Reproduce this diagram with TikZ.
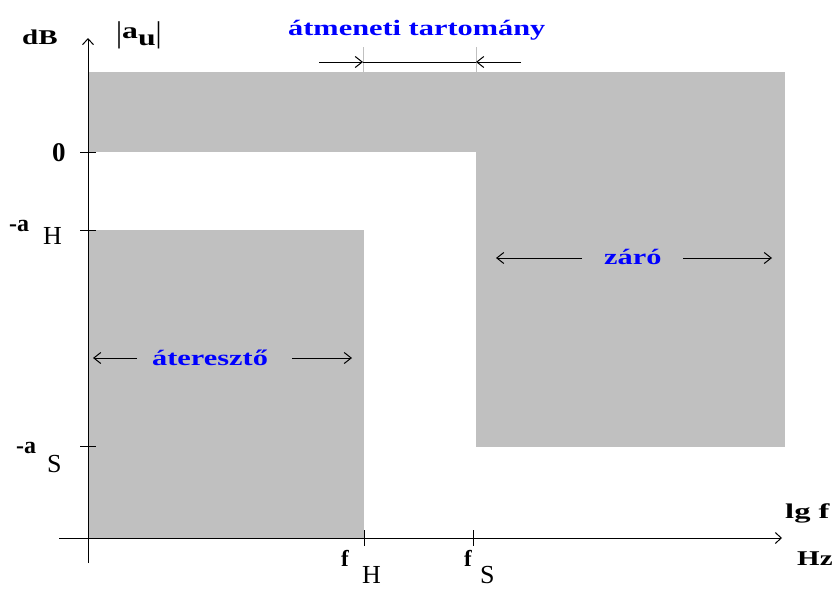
\documentclass[tikz,border=0pt]{standalone}
\usepackage{fontspec}
\setmainfont{Liberation Serif}
\newfontfamily\widefont[FakeStretch=1.38]{Liberation Serif}
\newfontfamily\widerfont[FakeStretch=1.55]{Liberation Serif}
\usetikzlibrary{arrows.meta}
\definecolor{band}{HTML}{C0C0C0}
\definecolor{lblblue}{HTML}{0000FF}
\tikzset{
  widelbl/.style={font=\widefont\bfseries\fontsize{21}{21}\selectfont, inner sep=0pt, anchor=base west},
  bluelbl/.style={font=\widefont\bfseries\fontsize{22}{22}\selectfont, text=lblblue, inner sep=0pt, anchor=base west},
  ticklbl/.style={font=\bfseries\fontsize{24}{24}\selectfont, inner sep=0pt, anchor=base west},
  sublbl/.style={font=\mdseries\fontsize{26}{26}\selectfont, inner sep=0pt, anchor=base west},
  axis/.style={line width=1pt, -{Straight Barb[length=6pt,width=11pt]}},
  dimarrow/.style={line width=1pt, -{Straight Barb[length=7pt,width=11pt]}},
  tick/.style={line width=1pt}
}
\begin{document}
\begin{tikzpicture}[x=1pt,y=-1pt]
\useasboundingbox (0,0) rectangle (836,589);
% gray regions
\fill[band] (88,72) rectangle (785,152);
\fill[band] (476,152) rectangle (785,447);
\fill[band] (88,230) rectangle (364,538);
% axes
\coordinate (ybot) at (88,563);
\coordinate (ytop) at (88,38);
\coordinate (xleft) at (59,538);
\coordinate (xright) at (782,538);
\draw[axis] (ybot) -- (ytop);
\draw[axis] (xleft) -- (xright);
% y ticks
\draw[tick] (80,152) -- (96,152);
\draw[tick] (80,230) -- (96,230);
\draw[tick] (80,446) -- (96,446);
% x ticks
\draw[tick] (364,530) -- (364,546);
\draw[tick] (473,530) -- (473,546);
% axis labels
\node[widelbl] (dB) at (22,45) {dB};
\node[inner sep=0pt, anchor=base west] (au) at (116,42)
  {{\fontsize{30}{30}\selectfont|}\raisebox{4pt}{\widefont\bfseries\fontsize{23}{23}\selectfont a}\raisebox{-3pt}{\widefont\bfseries\fontsize{23}{23}\selectfont u}{\fontsize{30}{30}\selectfont|}};
\node[ticklbl,font=\bfseries\fontsize{27}{27}\selectfont] (zero) at (52,161) {0};
\node[ticklbl] (aH) at (9,231) {-a};
\node[sublbl] (aHs) at (43,244) {H};
\node[ticklbl] (aS) at (16,453) {-a};
\node[sublbl] (aSs) at (47,472) {S};
\node[ticklbl,font=\bfseries\fontsize{23}{23}\selectfont] (fH) at (341,566) {f};
\node[sublbl] (fHs) at (362,583) {H};
\node[ticklbl,font=\bfseries\fontsize{23}{23}\selectfont] (fS) at (464,566) {f};
\node[sublbl] (fSs) at (480,583) {S};
\node[widelbl,font=\widerfont\bfseries\fontsize{21}{21}\selectfont] (lgf) at (785,518) {lg f};
\node[widelbl] (Hz) at (797,565) {Hz};
% transition band
\node[bluelbl] (atm) at (288,35) {átmeneti tartomány};
\draw[band, line width=1pt] (363,47) -- (363,72);
\draw[band, line width=1pt] (476,47) -- (476,72);
\coordinate (tl) at (319,62);
\coordinate (tli) at (363,62);
\coordinate (tr) at (521,62);
\coordinate (tri) at (476,62);
\draw[line width=1pt] (tli) -- (tri);
\draw[dimarrow] (tl) -- (tli);
\draw[dimarrow] (tr) -- (tri);
% pass band
\node[bluelbl] (pass) at (152,365) {áteresztő};
\coordinate (pl) at (93,358);
\coordinate (pr) at (352,358);
\draw[dimarrow] (137,358) -- (pl);
\draw[dimarrow] (292,358) -- (pr);
% stop band
\node[bluelbl] (stop) at (604,264) {záró};
\coordinate (sl) at (496,258);
\coordinate (sr) at (772,258);
\draw[dimarrow] (582,258) -- (sl);
\draw[dimarrow] (683,258) -- (sr);
\end{tikzpicture}
\end{document}
